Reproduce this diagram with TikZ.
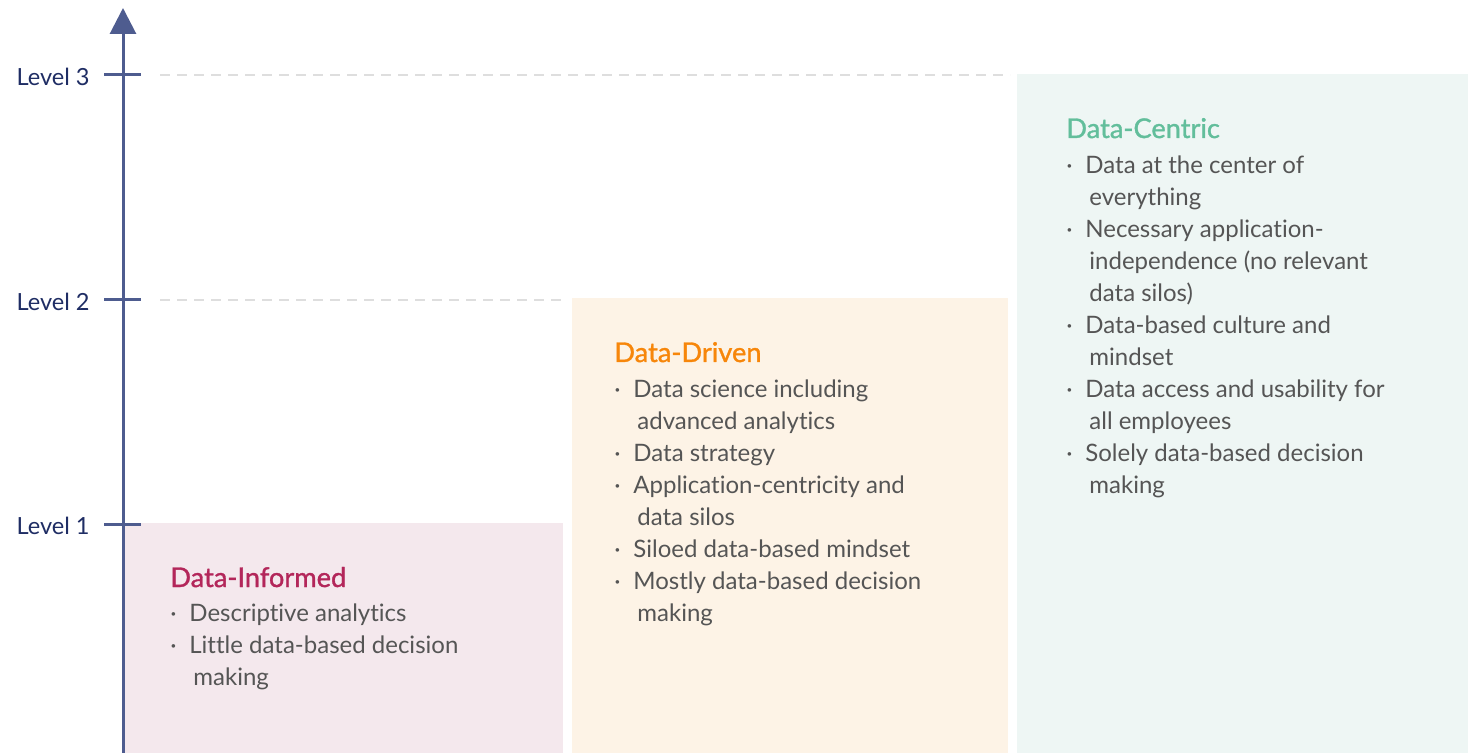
\documentclass[tikz,border=0pt]{standalone}
\usepackage{fontspec}
\setmainfont{Lato}[Ligatures=NoCommon]
\newfontfamily\titlefont{Lato}[FakeBold=1.2, Ligatures=NoCommon]
\usetikzlibrary{arrows.meta}

\definecolor{axisblue}{RGB}{78,92,143}
\definecolor{labelnavy}{RGB}{31,45,100}
\definecolor{guidegray}{RGB}{222,222,222}
\definecolor{bodygray}{RGB}{85,85,85}
\definecolor{informedfill}{RGB}{244,232,237}
\definecolor{drivenfill}{RGB}{253,243,230}
\definecolor{centricfill}{RGB}{238,246,244}
\definecolor{informedtitle}{RGB}{179,38,90}
\definecolor{driventitle}{RGB}{247,134,10}
\definecolor{centrictitle}{RGB}{98,190,155}

% bullet in front of an item (with a fixed-height strut), indent for wrapped lines
\newcommand\bul{\rule{0pt}{9pt}\makebox[9.5pt][l]{\textperiodcentered}}
\newcommand\wrapind{\hspace*{11.5pt}}

\begin{document}
\begin{tikzpicture}[
    x=0.5pt, y=-0.5pt,
    every node/.style={inner sep=0pt, font=\fontsize{12}{16}\selectfont, text=bodygray},
    tick/.style={axisblue, line width=1.5pt},
    guide/.style={guidegray, line width=1pt, dash pattern=on 5pt off 3.5pt},
    lvl/.style={anchor=east, text=labelnavy, font=\fontsize{11.8}{14}\selectfont},
    title/.style={anchor=base west, font=\titlefont\fontsize{13.6}{16}\selectfont},
    % items hang from the top of their first line: y = baseline - 18
    item/.style={anchor=north west, align=left},
]
\useasboundingbox (0,0) rectangle (1477,753);

% === Axis geometry ===
\def\axisX{123}
\def\tickL{104}
\def\tickR{141}

% === Level boxes ===
\fill[informedfill] (123,523) rectangle (563,753);
\fill[drivenfill] (572,298) rectangle (1008,753);
\fill[centricfill] (1017,74) rectangle (1468,753);

% Dashed guides from the ticks to the boxes
\draw[guide] (160,75) -- (1010,75);
\draw[guide] (160,300) -- (565,300);

% === Vertical axis with level ticks ===
\draw[tick, -{Triangle[length=13pt, width=13pt]}] (\axisX,753) -- (\axisX,8);
\foreach \ylvl/\lname in {75/Level 3, 300/Level 2, 524/Level 1} {
    \draw[tick] (\tickL,\ylvl) -- (\tickR,\ylvl);
    \node[lvl] (lvl\ylvl) at (90,\ylvl+2) {\lname};
}

% === Data-Informed ===
\node[title, text=informedtitle] (informed) at (170,587) {Data-Informed};
\node[item] (inf1) at (170,603) {\bul Descriptive analytics};
\node[item] (inf2) at (170,635) {\bul Little data-based decision\\\wrapind making};

% === Data-Driven ===
\node[title, text=driventitle] (driven) at (614,362) {Data-Driven};
\node[item] (drv1) at (614,379) {\bul Data science including\\\wrapind advanced analytics};
\node[item] (drv2) at (614,443) {\bul Data strategy};
\node[item] (drv3) at (614,475) {\bul Application-centricity and\\\wrapind data silos};
\node[item] (drv4) at (614,539) {\bul Siloed data-based mindset};
\node[item] (drv5) at (614,571) {\bul Mostly data-based decision\\\wrapind making};

% === Data-Centric ===
\node[title, text=centrictitle] (centric) at (1066,138) {Data-Centric};
\node[item] (cen1) at (1066,155) {\bul Data at the center of\\\wrapind everything};
\node[item] (cen2) at (1066,219) {\bul Necessary application-\\\wrapind independence (no relevant\\\wrapind data silos)};
\node[item] (cen3) at (1066,315) {\bul Data-based culture and\\\wrapind mindset};
\node[item] (cen4) at (1066,379) {\bul Data access and usability for\\\wrapind all employees};
\node[item] (cen5) at (1066,443) {\bul Solely data-based decision\\\wrapind making};

\end{tikzpicture}
\end{document}
